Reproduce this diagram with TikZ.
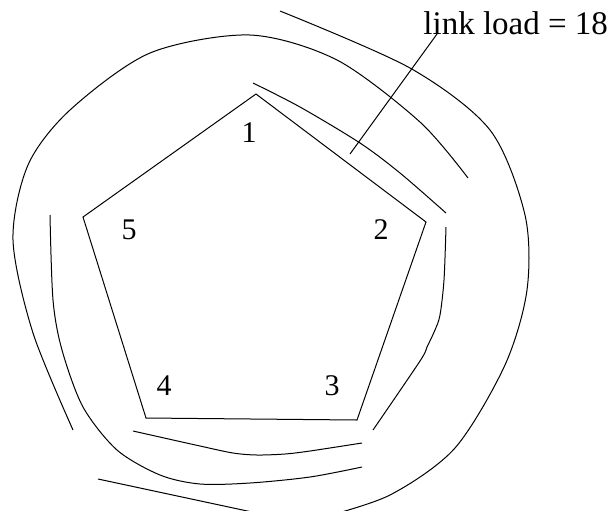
\documentclass[tikz,border=0pt]{standalone}
\usepackage{fontspec}
\setmainfont{Liberation Serif}
\usepackage{tikz}
\tikzset{
  ring/.style={draw, line width=0.5pt, line join=miter},
  route/.style={draw, line width=0.5pt, line join=round},
  vlab/.style={inner sep=0pt, font=\fontsize{15}{18}\selectfont},
  loadlab/.style={inner sep=0pt, anchor=base west, font=\fontsize{16.5}{19}\selectfont},
  lead/.style={draw, line width=0.5pt},
}

\begin{document}
\begin{tikzpicture}[x=0.5pt, y=-0.5pt]
  \useasboundingbox (0,0) rectangle (616,510);
  \clip (0,0) rectangle (616,510);

  % the five-node ring
  \coordinate (v1) at (256,94);
  \coordinate (v2) at (426,222);
  \coordinate (v3) at (357,420);
  \coordinate (v4) at (146,418);
  \coordinate (v5) at (83,217);
  \draw[ring] (v1) -- (v2) -- (v3) -- (v4) -- (v5) -- cycle;

  \node[vlab] (n1) at (249,133) {1};
  \node[vlab] (n2) at (381,230) {2};
  \node[vlab] (n3) at (332,386) {3};
  \node[vlab] (n4) at (164,386) {4};
  \node[vlab] (n5) at (129,230) {5};

  % routes laid round the ring
  \draw[route] plot[smooth] coordinates {(73,430) (33,333) (13,240) (28,165) (70,110)
    (150,53) (250,35) (337,60) (420,122) (468,178)};
  \draw[route] plot[smooth] coordinates {(280,11) (410,68) (490,130) (525,215) (527,290)
    (505,365) (455,448) (390,495) (320,518)};
  \draw[route] (98,479) -- (280,518);
  \draw[route] plot[smooth] coordinates {(50,215) (53,300) (62,350) (83,407) (117,450)
    (160,475) (200,484) (250,483) (310,477) (362,467)};
  \draw[route] plot[smooth] coordinates {(133,431) (200,446) (233,453) (257,455)
    (285,454) (310,451) (362,443)};
  \draw[route] plot[smooth] coordinates {(446,227) (444,280) (440,315) (435,330)
    (427,347) (420,361) (373,430)};
  \draw[route] plot[smooth] coordinates {(253,83) (300,107) (360,143) (400,173) (446,213)};

  % link label
  \node[loadlab] (load) at (423,34) {link load = 18};
  \coordinate (hit) at (350,154);
  \draw[lead] (hit) -- ([xshift=7pt]load.base west);
\end{tikzpicture}
\end{document}
